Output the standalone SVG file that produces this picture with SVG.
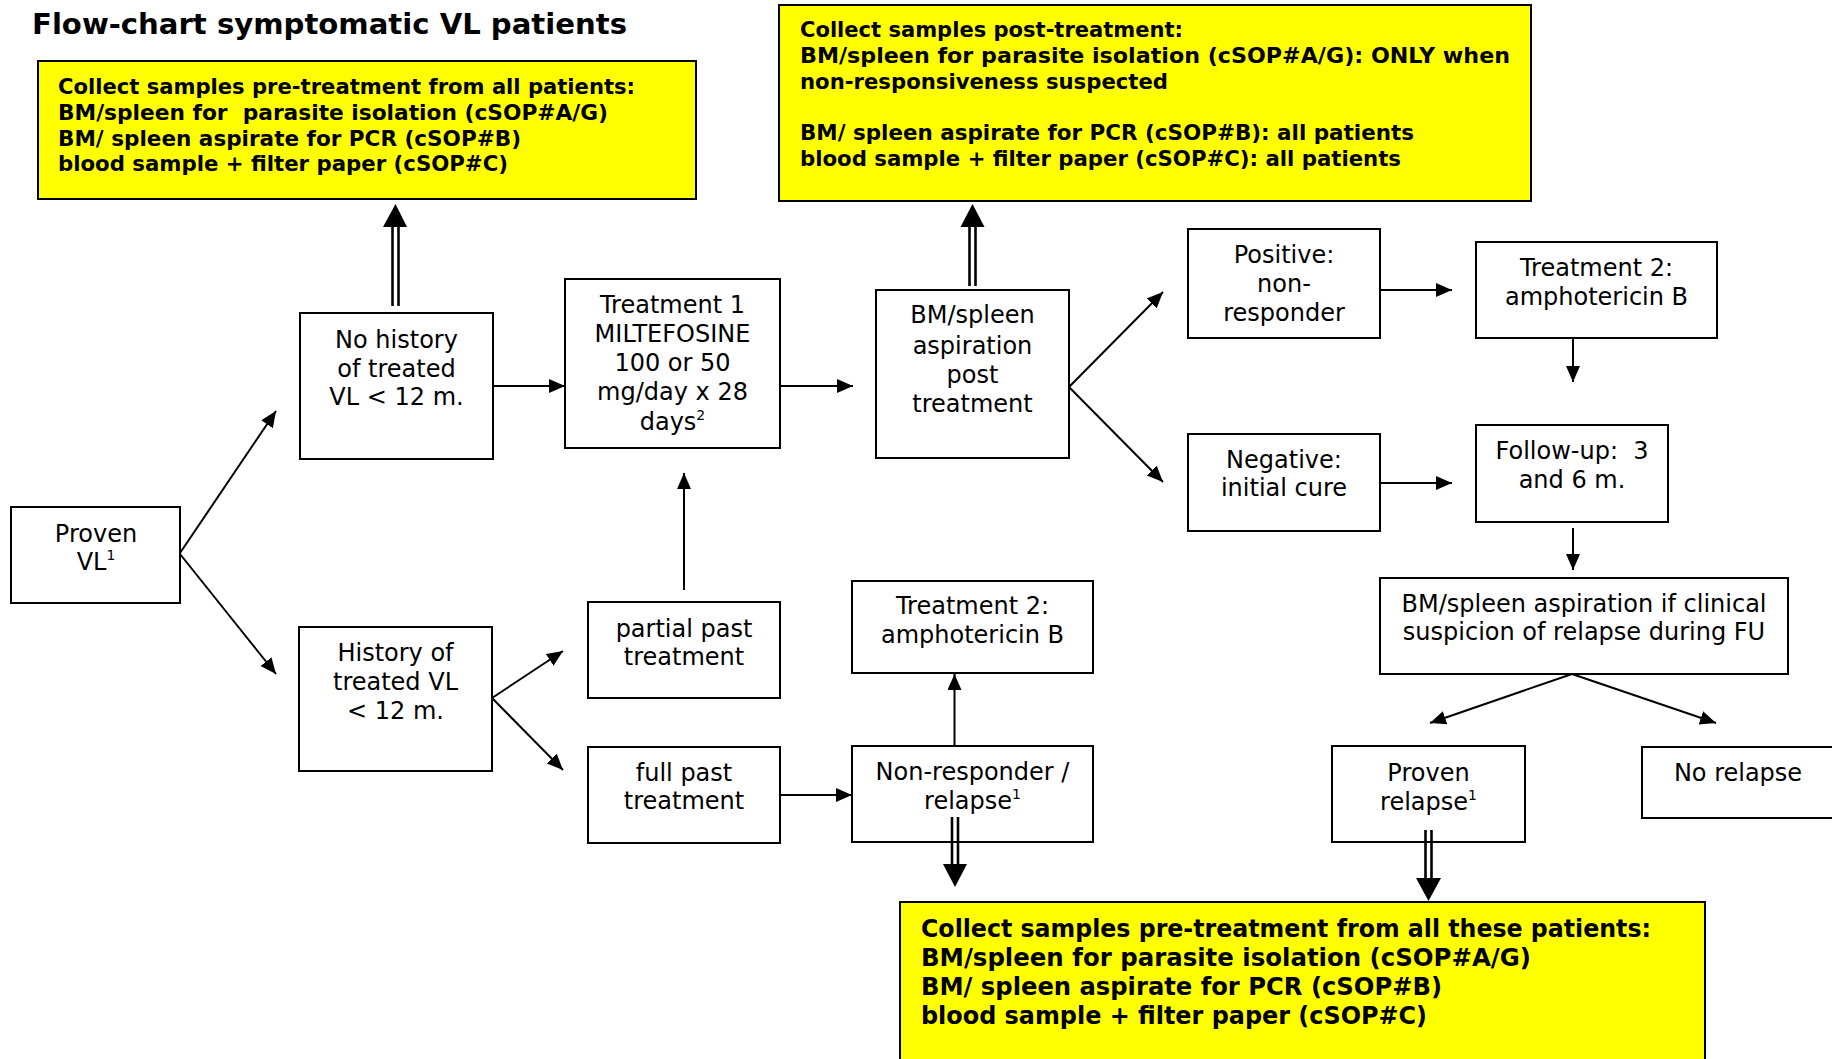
<svg xmlns="http://www.w3.org/2000/svg" width="1832" height="1059" viewBox="0 0 1832 1059">
<defs>
<marker id="ah" markerUnits="userSpaceOnUse" markerWidth="18" markerHeight="16" refX="16" refY="7" orient="auto">
<path d="M0,0 L16,7 L0,14 z" fill="#000"/>
</marker>
<style>
.box{fill:#fff;stroke:#000;stroke-width:2}
.ybox{fill:#ffff00;stroke:#000;stroke-width:2}
.t{font-family:"DejaVu Sans","Verdana",sans-serif;font-size:24px;fill:#000;text-anchor:middle}
.yt{font-family:"DejaVu Sans","Verdana",sans-serif;font-size:21px;font-weight:bold;fill:#000}
.yt3{font-family:"DejaVu Sans","Verdana",sans-serif;font-size:24px;font-weight:bold;fill:#000}
.title{font-family:"DejaVu Sans","Verdana",sans-serif;font-size:28px;font-weight:bold;fill:#000}
.c{stroke:#000;stroke-width:2;fill:none;marker-end:url(#ah)}
.dl{stroke:#000;stroke-width:2.6;fill:none}
.sup{font-size:14px}
</style>
</defs>
<rect width="1832" height="1059" fill="#fff"/>
<text class="title" x="32" y="34" textLength="595" lengthAdjust="spacingAndGlyphs">Flow-chart symptomatic VL patients</text>

<g id="collect-pre">
<rect class="ybox" x="38" y="61" width="658" height="138"/>
<text class="yt" x="58" y="94" textLength="577" lengthAdjust="spacingAndGlyphs">Collect samples pre-treatment from all patients:</text>
<text class="yt" x="58" y="120" xml:space="preserve" textLength="550" lengthAdjust="spacingAndGlyphs">BM/spleen for  parasite isolation (cSOP#A/G)</text>
<text class="yt" x="58" y="145.5" textLength="463" lengthAdjust="spacingAndGlyphs">BM/ spleen aspirate for PCR (cSOP#B)</text>
<text class="yt" x="58" y="171" textLength="450" lengthAdjust="spacingAndGlyphs">blood sample + filter paper (cSOP#C)</text>
</g>

<g id="collect-post">
<rect class="ybox" x="779" y="5" width="752" height="196"/>
<text class="yt" x="800" y="37" textLength="383" lengthAdjust="spacingAndGlyphs">Collect samples post-treatment:</text>
<text class="yt" x="800" y="63" textLength="710" lengthAdjust="spacingAndGlyphs">BM/spleen for parasite isolation (cSOP#A/G): ONLY when</text>
<text class="yt" x="800" y="88.5" textLength="368" lengthAdjust="spacingAndGlyphs">non-responsiveness suspected</text>
<text class="yt" x="800" y="140" textLength="614" lengthAdjust="spacingAndGlyphs">BM/ spleen aspirate for PCR (cSOP#B): all patients</text>
<text class="yt" x="800" y="165.5" textLength="601" lengthAdjust="spacingAndGlyphs">blood sample + filter paper (cSOP#C): all patients</text>
</g>

<g id="collect-relapse">
<rect class="ybox" x="900" y="902" width="805" height="170"/>
<text class="yt3" x="921" y="937" textLength="730" lengthAdjust="spacingAndGlyphs">Collect samples pre-treatment from all these patients:</text>
<text class="yt3" x="921" y="966" textLength="610" lengthAdjust="spacingAndGlyphs">BM/spleen for parasite isolation (cSOP#A/G)</text>
<text class="yt3" x="921" y="995" textLength="521" lengthAdjust="spacingAndGlyphs">BM/ spleen aspirate for PCR (cSOP#B)</text>
<text class="yt3" x="921" y="1024" textLength="506" lengthAdjust="spacingAndGlyphs">blood sample + filter paper (cSOP#C)</text>
</g>

<g id="proven-vl">
<rect class="box" x="11" y="507" width="169" height="96"/>
<text class="t" x="96" y="542">Proven</text>
<text class="t" x="96" y="570">VL<tspan class="sup" dy="-10">1</tspan></text>
</g>

<g id="no-history">
<rect class="box" x="300" y="313" width="193" height="146"/>
<text class="t" x="396.5" y="348">No history</text>
<text class="t" x="396.5" y="377">of treated</text>
<text class="t" x="396.5" y="405">VL &lt; 12 m.</text>
</g>

<g id="treatment1">
<rect class="box" x="565" y="279" width="215" height="169"/>
<text class="t" x="672.5" y="313">Treatment 1</text>
<text class="t" x="672.5" y="342">MILTEFOSINE</text>
<text class="t" x="672.5" y="371">100 or 50</text>
<text class="t" x="672.5" y="400">mg/day x 28</text>
<text class="t" x="672.5" y="430">days<tspan class="sup" dy="-10">2</tspan></text>
</g>

<g id="bm-post">
<rect class="box" x="876" y="290" width="193" height="168"/>
<text class="t" x="972.5" y="323">BM/spleen</text>
<text class="t" x="972.5" y="354">aspiration</text>
<text class="t" x="972.5" y="383">post</text>
<text class="t" x="972.5" y="412">treatment</text>
</g>

<g id="positive">
<rect class="box" x="1188" y="229" width="192" height="109"/>
<text class="t" x="1284" y="263">Positive:</text>
<text class="t" x="1284" y="292">non-</text>
<text class="t" x="1284" y="321">responder</text>
</g>

<g id="treatment2-top">
<rect class="box" x="1476" y="242" width="241" height="96"/>
<text class="t" x="1596.5" y="276">Treatment 2:</text>
<text class="t" x="1596.5" y="305">amphotericin B</text>
</g>

<g id="negative">
<rect class="box" x="1188" y="434" width="192" height="97"/>
<text class="t" x="1284" y="468">Negative:</text>
<text class="t" x="1284" y="496">initial cure</text>
</g>

<g id="follow-up">
<rect class="box" x="1476" y="425" width="192" height="97"/>
<text class="t" x="1572" y="459" xml:space="preserve">Follow-up:  3</text>
<text class="t" x="1572" y="488">and 6 m.</text>
</g>

<g id="bm-fu">
<rect class="box" x="1380" y="578" width="408" height="96"/>
<text class="t" x="1584" y="612">BM/spleen aspiration if clinical</text>
<text class="t" x="1584" y="640">suspicion of relapse during FU</text>
</g>

<g id="proven-relapse">
<rect class="box" x="1332" y="746" width="193" height="96"/>
<text class="t" x="1428.5" y="781">Proven</text>
<text class="t" x="1428.5" y="810">relapse<tspan class="sup" dy="-10">1</tspan></text>
</g>

<g id="no-relapse">
<rect class="box" x="1642" y="747" width="194" height="71"/>
<text class="t" x="1738" y="781">No relapse</text>
</g>

<g id="history">
<rect class="box" x="299" y="627" width="193" height="144"/>
<text class="t" x="395.5" y="661">History of</text>
<text class="t" x="395.5" y="690">treated VL</text>
<text class="t" x="395.5" y="719">&lt; 12 m.</text>
</g>

<g id="partial">
<rect class="box" x="588" y="602" width="192" height="96"/>
<text class="t" x="684" y="637">partial past</text>
<text class="t" x="684" y="665">treatment</text>
</g>

<g id="full">
<rect class="box" x="588" y="747" width="192" height="96"/>
<text class="t" x="684" y="781">full past</text>
<text class="t" x="684" y="809">treatment</text>
</g>

<g id="treatment2-mid">
<rect class="box" x="852" y="581" width="241" height="92"/>
<text class="t" x="972.5" y="614">Treatment 2:</text>
<text class="t" x="972.5" y="643">amphotericin B</text>
</g>

<g id="non-responder">
<rect class="box" x="852" y="746" width="241" height="96"/>
<text class="t" x="972.5" y="780">Non-responder /</text>
<text class="t" x="972.5" y="809">relapse<tspan class="sup" dy="-10">1</tspan></text>
</g>

<g id="connectors">
<line class="c" x1="180" y1="553" x2="276" y2="411"/>
<line class="c" x1="180" y1="554" x2="276" y2="674"/>
<line class="c" x1="493" y1="386" x2="565" y2="386"/>
<line class="c" x1="780" y1="386" x2="853" y2="386"/>
<line class="c" x1="1069" y1="387" x2="1163" y2="292"/>
<line class="c" x1="1069" y1="387" x2="1163" y2="482"/>
<line class="c" x1="1380" y1="290" x2="1452" y2="290"/>
<line class="c" x1="1380" y1="483" x2="1452" y2="483"/>
<line class="c" x1="1573" y1="339" x2="1573" y2="382"/>
<line class="c" x1="1573" y1="528" x2="1573" y2="570"/>
<line class="c" x1="1572" y1="674" x2="1430" y2="723"/>
<line class="c" x1="1572" y1="674" x2="1716" y2="723"/>
<line class="c" x1="492" y1="698" x2="563" y2="651"/>
<line class="c" x1="492" y1="698" x2="563" y2="770"/>
<line class="c" x1="684" y1="590" x2="684" y2="473"/>
<line class="c" x1="780" y1="795" x2="852" y2="795"/>
<line class="c" x1="954.5" y1="746" x2="954.5" y2="674"/>
<line class="dl" x1="392.5" y1="306" x2="392.5" y2="226"/>
<line class="dl" x1="398.5" y1="306" x2="398.5" y2="226"/>
<polygon points="383,227 407,227 395.5,204" fill="#000"/>
<line class="dl" x1="969.5" y1="286" x2="969.5" y2="226"/>
<line class="dl" x1="975.5" y1="286" x2="975.5" y2="226"/>
<polygon points="960.5,227 984.5,227 972.5,204" fill="#000"/>
<line class="dl" x1="952" y1="817" x2="952" y2="865"/>
<line class="dl" x1="958" y1="817" x2="958" y2="865"/>
<polygon points="943,864 967,864 955,887" fill="#000"/>
<line class="dl" x1="1425.5" y1="830" x2="1425.5" y2="879"/>
<line class="dl" x1="1431.5" y1="830" x2="1431.5" y2="879"/>
<polygon points="1416,878 1441,878 1428.5,901" fill="#000"/>
</g>
</svg>
